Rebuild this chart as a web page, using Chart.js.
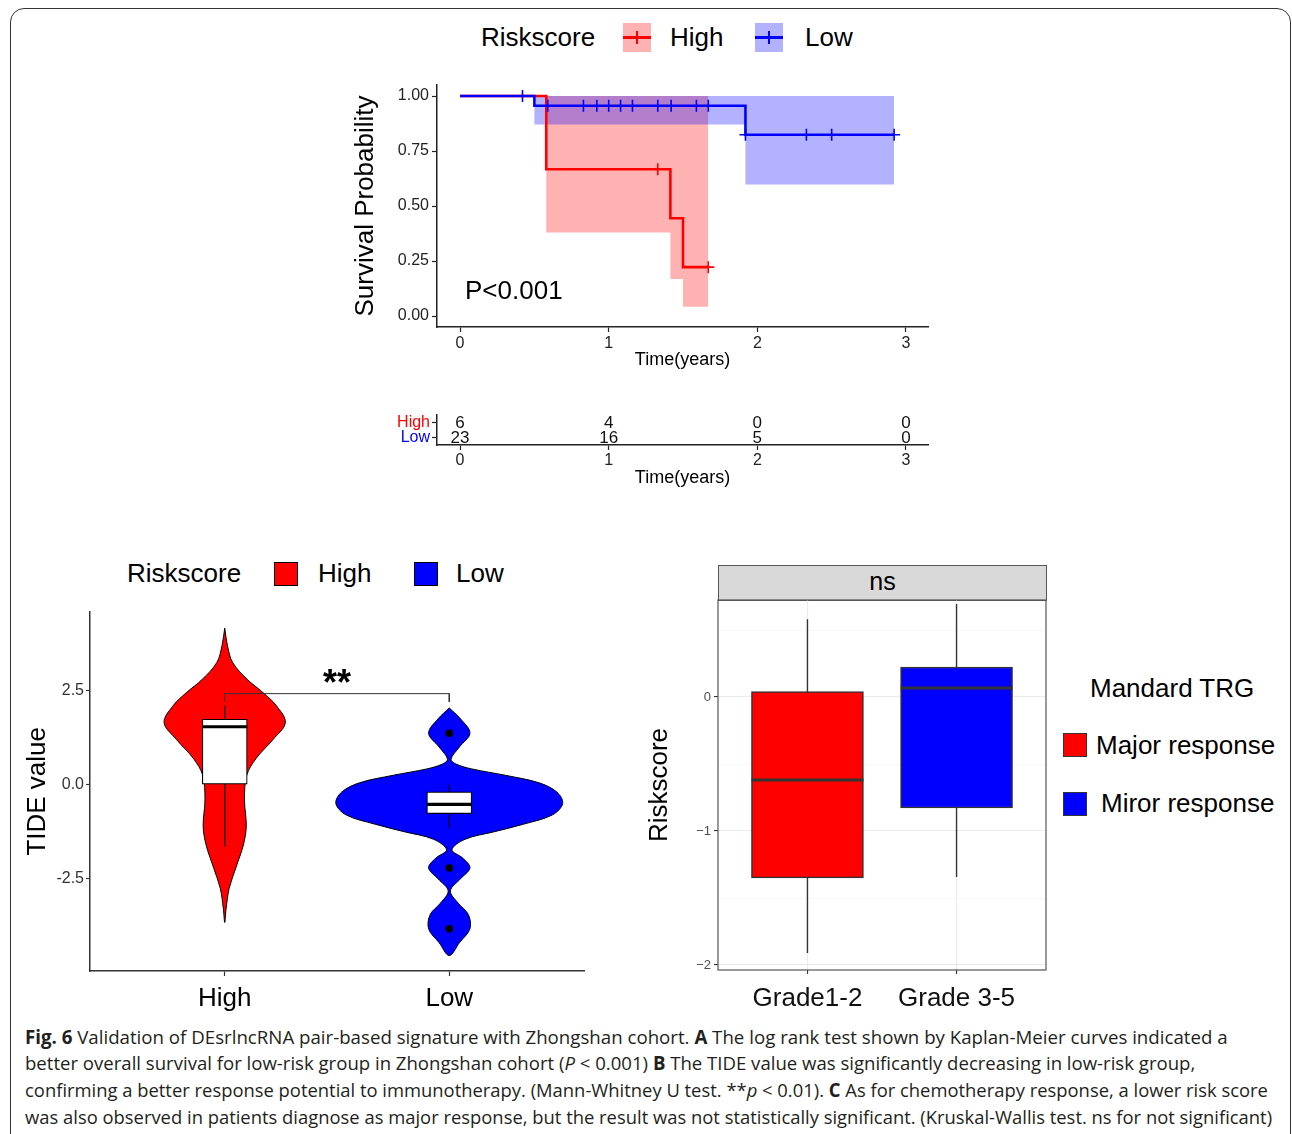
<!DOCTYPE html>
<html>
<head>
<meta charset="utf-8">
<script src="https://cdn.jsdelivr.net/npm/chart.js@4.4.1/dist/chart.umd.min.js"></script>
<style>
html, body { margin: 0; padding: 0; background: #fff; }
body { width: 1292px; height: 1134px; position: relative; overflow: hidden; font-family: "Liberation Sans", Arial, sans-serif; color: #000; }
.frame { position: absolute; left: 10px; top: 8px; width: 1281px; height: 1170px; border: 1px solid #333; border-radius: 14px; box-sizing: border-box; }
canvas { position: absolute; }
.t { position: absolute; white-space: nowrap; line-height: 1; font-size: 26px; }
.key { position: absolute; width: 28px; height: 29px; }
.key i { position: absolute; left: 0; right: 0; top: 13px; height: 3px; }
.key b { position: absolute; left: 13px; top: 8px; width: 2px; height: 13px; }
.sq { position: absolute; width: 22px; height: 22px; border: 1px solid #000; }
.strip { position: absolute; left: 718px; top: 565px; width: 329px; height: 36px; background: #d9d9d9; border: 1px solid #555; box-sizing: border-box; text-align: center; font-size: 25px; line-height: 31px; }
.cap { position: absolute; left: 25px; white-space: nowrap; font-family: "Liberation Sans Narrow", "Open Sans", sans-serif; font-size: 19px; line-height: 1; color: #231f20; transform-origin: 0 0; }
</style>
</head>
<body>
<div class="frame"></div>

<!-- A: legend -->
<div class="t" style="left:481px;top:24px">Riskscore</div>
<div class="key" style="left:623px;top:23px;background:rgba(255,0,0,0.3)"><i style="background:#f00"></i><b style="background:#f00"></b></div>
<div class="t" style="left:670px;top:24px">High</div>
<div class="key" style="left:755px;top:23px;background:rgba(0,0,255,0.3)"><i style="background:#00f"></i><b style="background:#00f"></b></div>
<div class="t" style="left:805px;top:24px">Low</div>
<canvas id="km" width="610" height="310" style="left:330px;top:70px"></canvas>
<div class="t" style="left:465px;top:277px">P&lt;0.001</div>
<canvas id="risk" width="610" height="90" style="left:330px;top:405px"></canvas>

<!-- B: legend -->
<div class="t" style="left:127px;top:560px">Riskscore</div>
<div class="sq" style="left:274px;top:562px;background:#f00"></div>
<div class="t" style="left:318px;top:560px">High</div>
<div class="sq" style="left:414px;top:562px;background:#00f"></div>
<div class="t" style="left:456px;top:560px">Low</div>
<canvas id="tide" width="580" height="420" style="left:20px;top:600px"></canvas>

<!-- C -->
<div class="strip">ns</div>
<canvas id="trg" width="420" height="460" style="left:640px;top:560px"></canvas>
<div class="t" style="left:1090px;top:675px">Mandard TRG</div>
<div class="sq" style="left:1063px;top:733px;background:#f00;border-color:#333"></div>
<div class="t" style="left:1096px;top:732px">Major response</div>
<div class="sq" style="left:1063px;top:792px;background:#00f;border-color:#333"></div>
<div class="t" style="left:1101px;top:790px">Miror response</div>

<!-- caption -->
<div class="cap" data-w="1203" style="top:1028px"><b>Fig. 6</b> Validation of DEsrlncRNA pair-based signature with Zhongshan cohort. <b>A</b> The log rank test shown by Kaplan-Meier curves indicated a</div>
<div class="cap" data-w="1170" style="top:1054px">better overall survival for low-risk group in Zhongshan cohort (<i>P</i> &lt; 0.001) <b>B</b> The TIDE value was significantly decreasing in low-risk group,</div>
<div class="cap" data-w="1243" style="top:1081px">confirming a better response potential to immunotherapy. (Mann-Whitney U test. **<i>p</i> &lt; 0.01). <b>C</b> As for chemotherapy response, a lower risk score</div>
<div class="cap" data-w="1247" style="top:1108px">was also observed in patients diagnose as major response, but the result was not statistically significant. (Kruskal-Wallis test. ns for not significant)</div>

<script>
// ---------- A: Kaplan-Meier ----------
const kmXTicks = [0, 1, 2, 3];
const kmYTicks = [0, 0.25, 0.5, 0.75, 1];
const hiTime  = [0, 0.58, 1.415, 1.50, 1.67];
const hiSurv  = [1, 0.667, 0.444, 0.222, 0.222];
const hiLower = [1, 0.38, 0.168, 0.042, 0.042];
const hiUpper = [1, 1, 1, 1, 1];
const hiCensorT = [1.33, 1.67];
const hiCensorS = [0.667, 0.222];
const loTime  = [0, 0.50, 1.92, 2.92];
const loSurv  = [1, 0.956, 0.824, 0.824];
const loLower = [1, 0.87, 0.598, 0.598];
const loUpper = [1, 1, 1, 1];
const loCensorT = [0.42, 0.59, 0.83, 0.92, 1.0, 1.08, 1.16, 1.33, 1.42, 1.59, 1.67, 1.92, 2.33, 2.5, 2.92];
const loCensorS = [1, 0.956, 0.956, 0.956, 0.956, 0.956, 0.956, 0.956, 0.956, 0.956, 0.956, 0.824, 0.824, 0.824, 0.824];

// risk table
const riskGroups = ['High', 'Low'];
const riskTimes = [0, 1, 2, 3];
const riskHigh = [6, 4, 0, 0];
const riskLow = [23, 16, 5, 0];

// ---------- B: TIDE violin ----------
const tideGroups = ['High', 'Low'];
const tideTicks = [-2.5, 0, 2.5];
const hiViolinY = [4.16, 3.7, 3.25, 2.8, 2.45, 2.1, 1.65, 1.2, 0.7, 0.25, -0.4, -1.1, -1.6, -2.2, -2.75, -3.3, -3.66];
const hiViolinW = [0, 0.012, 0.035, 0.10, 0.17, 0.23, 0.27, 0.215, 0.14, 0.098, 0.088, 0.096, 0.083, 0.05, 0.02, 0.006, 0];
const loViolinY = [2.04, 1.75, 1.37, 1.0, 0.68, 0.55, 0.42, 0.25, 0.05, -0.2, -0.5, -0.8, -1.05, -1.25, -1.45, -1.73, -1.95, -2.21, -2.5, -2.82, -3.15, -3.45, -3.83, -4.2, -4.54];
const loViolinW = [0, 0.05, 0.092, 0.045, 0.008, 0.03, 0.10, 0.25, 0.40, 0.48, 0.505, 0.46, 0.33, 0.20, 0.07, 0.012, 0.06, 0.092, 0.05, 0.005, 0.04, 0.085, 0.092, 0.045, 0];
const tideQ1 = [0.0, -0.77];
const tideMed = [1.54, -0.52];
const tideQ3 = [1.74, -0.19];
const tideWhLo = [-1.64, -1.16];
const tideWhHi = [2.1, 0.0];
const tideOutliers = [1.37, -2.21, -3.83];   // Low group
const sigBracket = [2.2, 2.42];

// ---------- C: Riskscore by Mandard TRG ----------
const trgGroups = ['Grade1-2', 'Grade 3-5'];
const trgColors = ['#ff0000', '#0000ff'];
const rsQ1 = [-1.35, -0.828];
const rsMed = [-0.62, 0.067];
const rsQ3 = [0.04, 0.224];
const rsWhLo = [-1.91, -1.343];
const rsWhHi = [0.58, 0.694];
const rsMajorTicks = [-2, -1, 0];
const rsMinorTicks = [-1.5, -0.5, 0.5];

Chart.defaults.font.family = '"Liberation Sans", Arial, sans-serif';
Chart.defaults.color = '#000';
Chart.defaults.plugins.legend.display = false;
Chart.defaults.plugins.tooltip.enabled = false;

const pts = (xs, ys) => xs.map((x, i) => ({x: x, y: ys[i]}));
const stepLine = (xs, ys, extra) => Object.assign({
  data: pts(xs, ys), stepped: true, pointRadius: 0, borderColor: 'transparent', fill: false
}, extra);

// A: KM curve
new Chart(document.getElementById('km'), {
  type: 'line',
  data: {
    datasets: [
      stepLine(hiTime, hiUpper, {order: 10}),
      stepLine(hiTime, hiLower, {order: 10, fill: '-1', backgroundColor: 'rgba(255,0,0,0.3)'}),
      stepLine(loTime, loUpper, {order: 9}),
      stepLine(loTime, loLower, {order: 9, fill: '-1', backgroundColor: 'rgba(0,0,255,0.3)'}),
      stepLine(hiTime, hiSurv, {order: 5, borderColor: '#ff0000', borderWidth: 2.6}),
      stepLine(loTime, loSurv, {order: 4, borderColor: '#0000ff', borderWidth: 2.6}),
      {type: 'scatter', data: pts(hiCensorT, hiCensorS), pointStyle: 'cross', pointRadius: 6,
       borderColor: '#ff0000', borderWidth: 1.6, order: 2},
      {type: 'scatter', data: pts(loCensorT, loCensorS), pointStyle: 'cross', pointRadius: 6,
       borderColor: '#0000ff', borderWidth: 1.6, order: 1}
    ]
  },
  options: {
    responsive: false, animation: false,
    layout: {padding: {top: 15, right: 12, left: 0, bottom: 0}},
    scales: {
      x: {
        type: 'linear', min: -0.155, max: 3.148,
        afterBuildTicks: s => { s.ticks = kmXTicks.map(v => ({value: v})); },
        afterFit: s => { s.height = 53; },
        ticks: {font: {size: 16}, color: '#222', padding: 2, maxRotation: 0, callback: v => String(v)},
        grid: {drawOnChartArea: false, tickLength: 5, tickColor: '#222', tickWidth: 1.2},
        border: {color: '#222', width: 1.5},
        title: {display: true, text: 'Time(years)', font: {size: 18, lineHeight: 1.2}, padding: {top: 0, bottom: 9}}
      },
      y: {
        min: -0.05, max: 1.05,
        afterBuildTicks: s => { s.ticks = kmYTicks.map(v => ({value: v})); },
        afterFit: s => { s.width = 107; },
        ticks: {font: {size: 16}, color: '#222', padding: 3, callback: v => v.toFixed(2)},
        grid: {drawOnChartArea: false, tickLength: 5, tickColor: '#222', tickWidth: 1.2},
        border: {color: '#222', width: 1.5},
        title: {display: true, text: 'Survival Probability', font: {size: 26, lineHeight: 1.2}, padding: {top: 20, bottom: 0}}
      }
    }
  }
});

// A: number at risk table
new Chart(document.getElementById('risk'), {
  type: 'scatter',
  data: {
    datasets: [
      {data: riskTimes.map(t => ({x: t, y: 'High'})), counts: riskHigh, pointRadius: 0},
      {data: riskTimes.map(t => ({x: t, y: 'Low'})), counts: riskLow, pointRadius: 0}
    ]
  },
  options: {
    responsive: false, animation: false,
    layout: {padding: {top: 9, right: 12, left: 0, bottom: 0}},
    scales: {
      x: {
        type: 'linear', min: -0.155, max: 3.148,
        afterBuildTicks: s => { s.ticks = riskTimes.map(v => ({value: v})); },
        afterFit: s => { s.height = 50; },
        ticks: {font: {size: 16}, color: '#222', padding: 1, maxRotation: 0, callback: v => String(v)},
        grid: {drawOnChartArea: false, tickLength: 5, tickColor: '#222', tickWidth: 1.2},
        border: {color: '#222', width: 1.5},
        title: {display: true, text: 'Time(years)', font: {size: 18, lineHeight: 1.2}, padding: {top: 0, bottom: 6}}
      },
      y: {
        type: 'category', labels: riskGroups, offset: true,
        afterFit: s => { s.width = 107; },
        ticks: {font: {size: 16, lineHeight: 1}, padding: 2, autoSkip: false,
                color: c => c.index === 0 ? '#ff0000' : '#0000ff'},
        grid: {drawOnChartArea: false, offset: false, tickLength: 5, tickColor: '#222', tickWidth: 1.2},
        border: {color: '#222', width: 1.5}
      }
    }
  },
  plugins: [{
    id: 'riskText',
    afterDatasetsDraw(chart) {
      const ctx = chart.ctx;
      ctx.save();
      ctx.font = '17px "Liberation Sans", Arial, sans-serif';
      ctx.fillStyle = '#111';
      ctx.textAlign = 'center';
      ctx.textBaseline = 'middle';
      chart.data.datasets.forEach((ds, i) => {
        chart.getDatasetMeta(i).data.forEach((p, j) => ctx.fillText(String(ds.counts[j]), p.x, p.y + 1));
      });
      ctx.restore();
    }
  }]
});

// B: violin + box
function violinShape(cx, ys, ws) {
  const right = ys.map((y, i) => ({x: cx + ws[i], y: y}));
  const left = ys.map((y, i) => ({x: cx - ws[i], y: y})).reverse();
  return right.concat(left.slice(1));
}
const boxHalfB = 0.1;
new Chart(document.getElementById('tide'), {
  type: 'line',
  data: {
    datasets: [
      {data: violinShape(1, hiViolinY, hiViolinW), fill: 'shape', backgroundColor: '#ff0000',
       borderColor: '#000', borderWidth: 1, pointRadius: 0, tension: 0.35, order: 10},
      {data: violinShape(2, loViolinY, loViolinW), fill: 'shape', backgroundColor: '#0000ff',
       borderColor: '#000', borderWidth: 1, pointRadius: 0, tension: 0.35, order: 10},
      {data: [{x: 1, y: tideWhLo[0]}, {x: 1, y: tideWhHi[0]}], borderColor: '#000', borderWidth: 1.2, pointRadius: 0, order: 7},
      {data: [{x: 2, y: tideWhLo[1]}, {x: 2, y: tideWhHi[1]}], borderColor: '#000', borderWidth: 1.2, pointRadius: 0, order: 7},
      {type: 'bar', data: [{x: 1, y: [tideQ1[0], tideQ3[0]]}, {x: 2, y: [tideQ1[1], tideQ3[1]]}],
       backgroundColor: '#ffffff', borderColor: '#000', borderWidth: 1.2, borderSkipped: false,
       barThickness: 45, grouped: false, order: 6},
      {data: [{x: 1 - boxHalfB, y: tideMed[0]}, {x: 1 + boxHalfB, y: tideMed[0]}], borderColor: '#000', borderWidth: 3.2, pointRadius: 0, order: 5},
      {data: [{x: 2 - boxHalfB, y: tideMed[1]}, {x: 2 + boxHalfB, y: tideMed[1]}], borderColor: '#000', borderWidth: 3.2, pointRadius: 0, order: 5},
      {type: 'scatter', data: tideOutliers.map(v => ({x: 2, y: v})), pointRadius: 3.5,
       backgroundColor: '#000', borderColor: '#000', order: 4},
      {data: [{x: 1, y: sigBracket[0]}, {x: 1, y: sigBracket[1]}, {x: 2, y: sigBracket[1]}, {x: 2, y: sigBracket[0]}],
       borderColor: '#333', borderWidth: 1, pointRadius: 0, order: 3}
    ]
  },
  options: {
    responsive: false, animation: false,
    layout: {padding: {top: 8, right: 16, left: 0, bottom: 0}},
    scales: {
      x: {
        type: 'linear', min: 0.4, max: 2.6, offset: false,
        afterBuildTicks: s => { s.ticks = [1, 2].map(v => ({value: v})); },
        afterFit: s => { s.height = 49; },
        ticks: {font: {size: 26}, color: '#000', padding: 7, maxRotation: 0, callback: v => tideGroups[v - 1]},
        grid: {drawOnChartArea: false, offset: false, tickLength: 5, tickColor: '#333', tickWidth: 1.2},
        border: {color: '#333', width: 1.5}
      },
      y: {
        min: -4.95, max: 4.6,
        afterBuildTicks: s => { s.ticks = tideTicks.map(v => ({value: v})); },
        afterFit: s => { s.width = 70; },
        ticks: {font: {size: 16}, color: '#333', padding: 2, callback: v => v.toFixed(1)},
        grid: {drawOnChartArea: false, tickLength: 4, tickColor: '#333', tickWidth: 1.2},
        border: {color: '#333', width: 1.5},
        title: {display: true, text: 'TIDE value', font: {size: 26, lineHeight: 1.2}, padding: {top: 2, bottom: 0}}
      }
    }
  },
  plugins: [{
    id: 'sigStars',
    afterDatasetsDraw(chart) {
      const {ctx, scales: {x, y}} = chart;
      ctx.save();
      ctx.font = 'bold 36px "Liberation Sans", Arial, sans-serif';
      ctx.fillStyle = '#000';
      ctx.textAlign = 'center';
      ctx.textBaseline = 'middle';
      ctx.fillText('**', x.getPixelForValue(1.5), y.getPixelForValue(sigBracket[1]) - 9);
      ctx.restore();
    }
  }]
});

// C: box plot
const boxHalfC = 0.375;
const trgDatasets = [
  {type: 'bar', data: trgGroups.map((g, i) => ({x: i + 1, y: [rsQ1[i], rsQ3[i]]})),
   backgroundColor: trgColors, borderColor: '#333', borderWidth: 1.5, borderSkipped: false,
   barThickness: 112, grouped: false, order: 6}
];
trgGroups.forEach((g, i) => {
  trgDatasets.push({data: [{x: i + 1, y: rsWhLo[i]}, {x: i + 1, y: rsWhHi[i]}],
    borderColor: '#333', borderWidth: 1.4, pointRadius: 0, order: 8});
  trgDatasets.push({data: [{x: i + 1 - boxHalfC, y: rsMed[i]}, {x: i + 1 + boxHalfC, y: rsMed[i]}],
    borderColor: '#333', borderWidth: 3, pointRadius: 0, order: 4});
});
new Chart(document.getElementById('trg'), {
  type: 'line',
  data: {datasets: trgDatasets},
  options: {
    responsive: false, animation: false,
    layout: {padding: {top: 40, right: 14, left: 0, bottom: 0}},
    scales: {
      x: {
        type: 'linear', min: 0.4, max: 2.6, offset: false,
        afterBuildTicks: s => { s.ticks = [1, 2].map(v => ({value: v})); },
        afterFit: s => { s.height = 50; },
        ticks: {font: {size: 26}, color: '#111', padding: 9, maxRotation: 0, callback: v => trgGroups[v - 1]},
        grid: {color: '#ebebeb', lineWidth: 1.1, offset: false, tickLength: 4, tickColor: '#333', tickWidth: 1.1},
        border: {display: false}
      },
      y: {
        min: -2.037, max: 0.724,
        afterBuildTicks: s => {
          s.ticks = rsMajorTicks.concat(rsMinorTicks).sort((a, b) => a - b).map(v => ({value: v}));
        },
        afterFit: s => { s.width = 78; },
        ticks: {font: {size: 13}, color: '#4d4d4d', padding: 3, autoSkip: false,
                callback: v => rsMajorTicks.includes(v) ? (v < 0 ? '\u2212' + Math.abs(v) : String(v)) : ''},
        grid: {
          color: c => rsMajorTicks.includes(c.tick.value) ? '#ebebeb' : '#f4f4f4',
          lineWidth: c => rsMajorTicks.includes(c.tick.value) ? 1.1 : 0.6,
          tickColor: c => rsMajorTicks.includes(c.tick.value) ? '#333' : 'rgba(0,0,0,0)',
          tickLength: 4, tickWidth: 1.1
        },
        border: {display: false},
        title: {display: true, text: 'Riskscore', font: {size: 26, lineHeight: 1.2}, padding: {top: 4, bottom: 0}}
      }
    }
  },
  plugins: [{
    id: 'panelBorder',
    afterDatasetsDraw(chart) {
      const {ctx, chartArea: a} = chart;
      ctx.save();
      ctx.strokeStyle = '#555';
      ctx.lineWidth = 1.2;
      ctx.strokeRect(a.left, a.top, a.right - a.left, a.bottom - a.top);
      ctx.restore();
    }
  }]
});

// fit caption lines to the printed widths
document.querySelectorAll('.cap').forEach(el => {
  const w = el.scrollWidth;
  el.style.transform = 'scaleX(' + (Number(el.dataset.w) / w) + ')';
});
</script>
</body>
</html>
